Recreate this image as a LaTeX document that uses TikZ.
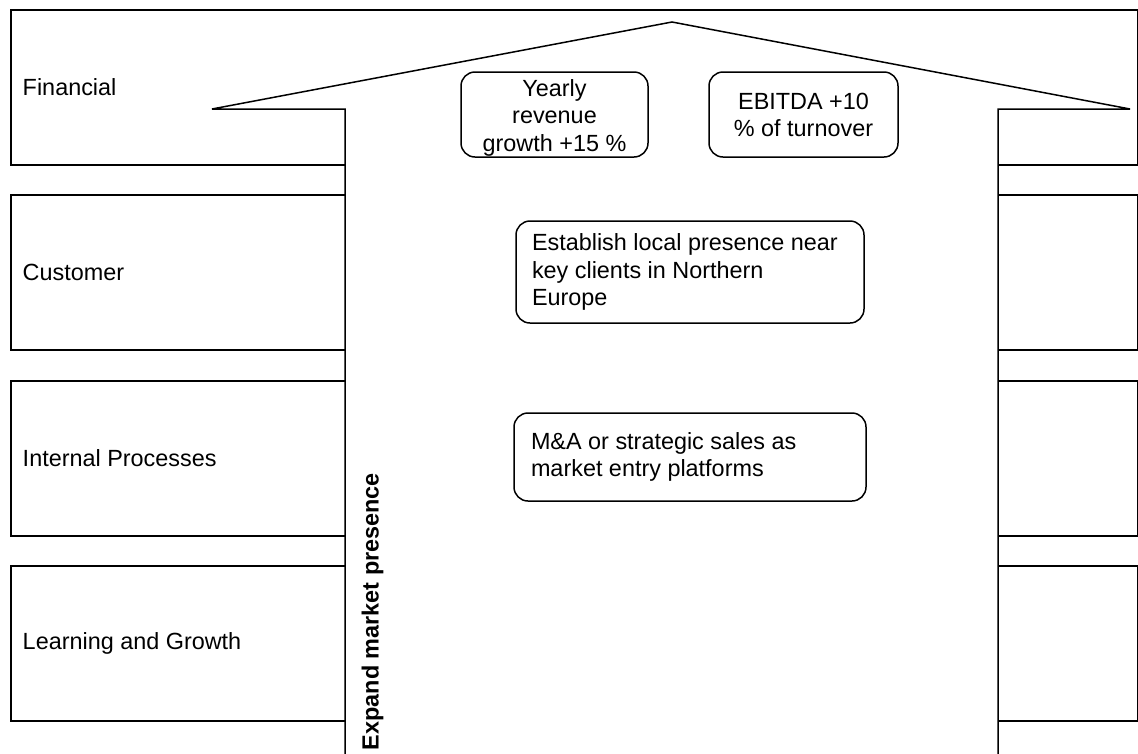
\documentclass[tikz,border=0pt]{standalone}
\usepackage{fontspec}
\setmainfont{Liberation Sans}
\begin{document}
\begin{tikzpicture}[x=1pt,y=-1pt,line width=1.5pt,line join=miter,
  lane/.style={draw, minimum width=1127pt, minimum height=155pt,
    inner sep=0pt, anchor=north west},
  lanelabel/.style={anchor=west, inner sep=0pt,
    font=\fontsize{23.4}{27}\selectfont},
  goal/.style={draw, rounded corners=14pt, inner sep=0pt,
    font=\fontsize{23.4}{27.5}\selectfont},
  goaltext/.style={anchor=west, inner sep=0pt, align=left,
    font=\fontsize{23.4}{27.5}\selectfont},
  goalmid/.style={inner sep=0pt, align=center,
    font=\fontsize{23.4}{27.5}\selectfont},
]
\clip (0,0) rectangle (1138,753);
\fill[white] (0,0) rectangle (1138,753);

% perspective lanes
\node[lane] (fin)  at (10,9)   {};
\node[lane] (cus)  at (10,194) {};
\node[lane] (proc) at (10,380) {};
\node[lane] (learn) at (10,565) {};

\node[lanelabel] (finl)   at ([xshift=12pt]fin.west)   {Financial};
\node[lanelabel] (cusl)   at ([xshift=12pt]cus.west)   {Customer};
\node[lanelabel] (procl)  at ([xshift=12pt]proc.west)  {Internal Processes};
\node[lanelabel] (learnl) at ([xshift=12pt]learn.west) {Learning and Growth};

% big upward arrow across the lanes
\coordinate (shaftL) at (345,780);
\coordinate (shaftR) at (998,780);
\draw[fill=white] (shaftL) -- (345,109) -- (212,109) -- (672,22)
  -- (1130,109) -- (998,109) -- (shaftR) -- cycle;

\node[font=\bfseries\fontsize{23.4}{27}\selectfont, rotate=90, inner sep=0pt]
  (theme) at (372.5,611.5) {Expand market presence};

% objectives
\node[goal, minimum width=187pt, minimum height=85pt] (rev) at (554.5,114.5) {};
\node[goalmid] (revt) at ([yshift=-3pt]rev.center)
  {Yearly\\revenue\\growth +15 \%};
\node[goal, minimum width=189pt, minimum height=85pt] (ebitda) at (803.5,114.5) {};
\node[goalmid] (ebitdat) at ([yshift=-0.5pt]ebitda.center)
  {EBITDA +10\\\% of turnover};
\node[goal, minimum width=348pt, minimum height=102pt]
  (local) at (690,272) {};
\node[goaltext] (localt) at ([xshift=16pt]local.west)
  {Establish local presence near\\key clients in Northern\\Europe};
\node[goal, minimum width=352pt, minimum height=88pt]
  (mna) at (690,457) {};
\node[goaltext] (mnat) at ([xshift=17pt]mna.west)
  {M\&A or strategic sales as\\market entry platforms};
\end{tikzpicture}
\end{document}
